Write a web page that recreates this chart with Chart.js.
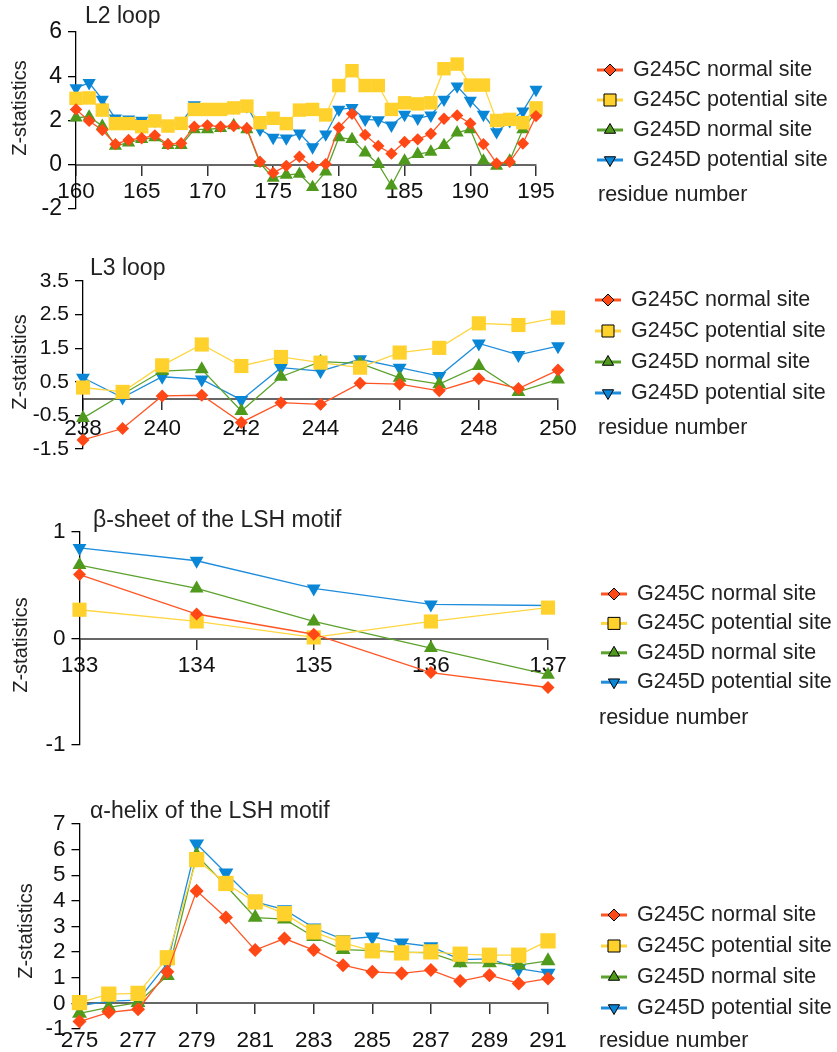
<!DOCTYPE html>
<html>
<head>
<meta charset="utf-8">
<script src="https://cdn.jsdelivr.net/npm/chart.js@4.4.1/dist/chart.umd.min.js"></script>
<style>
  body { margin: 0; background: #fff; width: 837px; height: 1052px; position: relative; overflow: hidden; }
  canvas { position: absolute; left: 0; }
</style>
</head>
<body>
<canvas id="l2Chart"></canvas>
<canvas id="l3Chart"></canvas>
<canvas id="sheetChart"></canvas>
<canvas id="helixChart"></canvas>
<script>
// --- DATA ---
const seriesLabels = ['G245C normal site', 'G245C potential site', 'G245D normal site', 'G245D potential site'];

// L2 loop
const l2Residues = [160, 161, 162, 163, 164, 165, 166, 167, 168, 169, 170, 171, 172, 173, 174, 175, 176, 177,
                    178, 179, 180, 181, 182, 183, 184, 185, 186, 187, 188, 189, 190, 191, 192, 193, 194, 195];
const l2CNormal = [2.5, 1.98, 1.57, 0.93, 1.12, 1.2, 1.33, 0.93, 0.97, 1.72, 1.78, 1.72, 1.75, 1.65, 0.13, -0.37, -0.05, 0.36,
                   -0.09, 0.03, 1.68, 2.3, 1.35, 0.85, 0.5, 1.03, 1.15, 1.4, 2.08, 2.23, 1.87, 0.93, 0.06, 0.13, 0.96, 2.2];
const l2CPotential = [3.0, 3.02, 2.47, 1.86, 1.86, 1.72, 1.98, 1.75, 1.87, 2.5, 2.5, 2.5, 2.57, 2.65, 1.9, 2.1, 1.86, 2.47,
                      2.5, 2.25, 3.58, 4.25, 3.58, 3.58, 2.5, 2.8, 2.75, 2.8, 4.34, 4.55, 3.6, 3.6, 2.0, 2.05, 1.9, 2.57];
const l2DNormal = [2.13, 2.17, 1.75, 0.85, 1.0, 1.15, 1.23, 0.88, 0.88, 1.6, 1.6, 1.65, 1.78, 1.6, 0.07, -0.6, -0.46, -0.42,
                   -1.02, -0.31, 1.23, 1.15, 0.55, 0.03, -0.95, 0.18, 0.48, 0.58, 0.88, 1.45, 1.6, 0.18, -0.05, 0.18, 1.6, 2.4];
const l2DPotential = [3.47, 3.7, 2.95, 2.1, 2.05, 2.0, 2.0, 1.8, 1.9, 2.7, 2.6, 2.55, 2.6, 2.65, 1.6, 1.23, 1.2, 1.42,
                      0.8, 1.38, 2.5, 2.57, 2.05, 2.02, 1.78, 2.27, 2.1, 2.23, 2.95, 3.55, 2.9, 2.27, 1.48, 1.98, 2.42, 3.4];
const l2XTicks = [160, 165, 170, 175, 180, 185, 190, 195];
const l2YTicks = [-2, 0, 2, 4, 6];

// L3 loop
const l3Residues = [238, 239, 240, 241, 242, 243, 244, 245, 246, 247, 248, 249, 250];
const l3CNormal = [-1.23, -0.89, 0.08, 0.1, -0.71, -0.12, -0.17, 0.46, 0.43, 0.23, 0.59, 0.3, 0.85];
const l3CPotential = [0.33, 0.2, 0.99, 1.61, 0.97, 1.24, 1.07, 0.92, 1.37, 1.51, 2.24, 2.19, 2.41];
const l3DNormal = [-0.58, 0.13, 0.82, 0.87, -0.37, 0.65, 1.1, 1.05, 0.62, 0.43, 0.97, 0.2, 0.57];
const l3DPotential = [0.62, 0.03, 0.65, 0.57, -0.04, 0.92, 0.82, 1.17, 0.92, 0.67, 1.64, 1.3, 1.56];
const l3XTicks = [238, 240, 242, 244, 246, 248, 250];
const l3YTicks = [-1.5, -0.5, 0.5, 1.5, 2.5, 3.5];

// beta-sheet of the LSH motif
const sheetResidues = [133, 134, 135, 136, 137];
const sheetCNormal = [0.6, 0.23, 0.04, -0.32, -0.46];
const sheetCPotential = [0.27, 0.16, 0.01, 0.16, 0.29];
const sheetDNormal = [0.69, 0.47, 0.16, -0.09, -0.34];
const sheetDPotential = [0.85, 0.73, 0.47, 0.32, 0.31];
const sheetXTicks = [133, 134, 135, 136, 137];
const sheetYTicks = [-1, 0, 1];

// alpha-helix of the LSH motif
const helixResidues = [275, 276, 277, 278, 279, 280, 281, 282, 283, 284, 285, 286, 287, 288, 289, 290, 291];
const helixCNormal = [-0.71, -0.35, -0.23, 1.23, 4.39, 3.35, 2.08, 2.53, 2.08, 1.49, 1.23, 1.17, 1.3, 0.87, 1.1, 0.78, 0.97];
const helixCPotential = [0.03, 0.36, 0.39, 1.78, 5.61, 4.68, 3.96, 3.5, 2.79, 2.36, 2.05, 1.97, 2.01, 1.92, 1.88, 1.88, 2.44];
const helixDNormal = [-0.39, -0.16, 0.03, 1.08, 5.78, 4.6, 3.35, 3.29, 2.6, 2.1, 2.06, 2.0, 1.97, 1.58, 1.58, 1.49, 1.66];
const helixDPotential = [-0.1, 0.09, 0.13, 1.56, 6.23, 5.09, 3.96, 3.66, 2.95, 2.5, 2.6, 2.36, 2.22, 1.71, 1.74, 1.36, 1.18];
const helixXTicks = [275, 277, 279, 281, 283, 285, 287, 289, 291];
const helixYTicks = [-1, 0, 1, 2, 3, 4, 5, 6, 7];

// --- STYLES ---
const FONT = '"Liberation Sans", Arial, sans-serif';
const markerColors = ['#FF4816', '#FFD12C', '#4F9A1D', '#0A86D6'];
const lineColors = ['#FF5524', '#FFD640', '#5CA22C', '#1E8DDB'];
const markerStyles = ['rectRot', 'rect', 'triangle', 'triangle'];
const markerRotations = [0, 0, 0, 180];
const markerRadius = [6.5, 10, 8, 8];
const legendRadius = [6, 8.5, 6.5, 6.5];
const Y_AXIS_W = 60;

function drawPanelText(chart, p) {
    const ctx = chart.ctx;
    ctx.save();
    ctx.translate(0, -p.top);
    ctx.fillStyle = '#222';

    // panel title
    ctx.font = '23px ' + FONT;
    ctx.textAlign = 'left';
    ctx.textBaseline = 'alphabetic';
    ctx.fillText(p.title, p.titleX, p.titleY);

    // y axis title
    ctx.save();
    ctx.translate(p.yTitleX, p.yTitleY);
    ctx.rotate(-Math.PI / 2);
    ctx.font = '20px ' + FONT;
    ctx.textAlign = 'center';
    ctx.textBaseline = 'middle';
    ctx.fillText('Z-statistics', 0, 0);
    ctx.restore();

    // legend
    ctx.font = '21.5px ' + FONT;
    ctx.textBaseline = 'middle';
    chart.data.datasets.forEach((ds, i) => {
        const y = p.legendY + i * p.legendGap;
        const mx = p.legendX - 23;
        ctx.strokeStyle = lineColors[i];
        ctx.lineWidth = 3;
        ctx.beginPath();
        ctx.moveTo(mx - 13, y);
        ctx.lineTo(mx + 13, y);
        ctx.stroke();
        ctx.fillStyle = markerColors[i];
        ctx.strokeStyle = '#000';
        ctx.lineWidth = 1;
        Chart.helpers.drawPoint(ctx, {
            pointStyle: markerStyles[i],
            rotation: markerRotations[i],
            radius: legendRadius[i],
            borderWidth: 1
        }, mx, y);
        ctx.fillStyle = '#222';
        ctx.fillText(ds.label, p.legendX, y);
    });
    ctx.fillText('residue number', p.residueX, p.residueY);
    ctx.restore();
}

function makeChart(id, p) {
    const cv = document.getElementById(id);
    cv.style.top = p.top + 'px';
    cv.width = 837;
    cv.height = p.height;
    const [left, right, top, bottom] = p.area;

    const datasets = p.series.map((values, i) => ({
        label: seriesLabels[i],
        data: p.residues.map((x, j) => ({ x: x, y: values[j] })),
        borderColor: lineColors[i],
        borderWidth: 1.3,
        backgroundColor: markerColors[i],
        pointBackgroundColor: markerColors[i],
        pointBorderWidth: 0,
        pointStyle: markerStyles[i],
        pointRotation: markerRotations[i],
        pointRadius: markerRadius[i] * p.k,
        tension: 0,
        clip: false
    }));

    new Chart(cv, {
        type: 'line',
        data: { datasets: datasets },
        options: {
            responsive: false,
            animation: false,
            layout: {
                padding: { left: left - Y_AXIS_W, right: 837 - right, top: top - p.top, bottom: p.top + p.height - bottom }
            },
            plugins: { legend: { display: false }, tooltip: { enabled: false } },
            scales: {
                x: {
                    type: 'linear',
                    min: p.residues[0],
                    max: p.residues[p.residues.length - 1],
                    position: { y: 0 },
                    afterBuildTicks: axis => { axis.ticks = p.xTicks.map(v => ({ value: v })); },
                    ticks: { font: { family: FONT, size: 22.5 }, color: '#111', padding: p.xPad, maxRotation: 0, autoSkip: false,
                             callback: v => String(v) },
                    grid: { drawOnChartArea: false, drawTicks: true, tickLength: 10, color: '#333', lineWidth: 1.5 },
                    border: { display: true, color: '#666', width: 2 }
                },
                y: {
                    type: 'linear',
                    min: p.yTicks[0],
                    max: p.yTicks[p.yTicks.length - 1],
                    afterFit: s => { s.width = Y_AXIS_W; },
                    afterBuildTicks: axis => { axis.ticks = p.yTicks.map(v => ({ value: v })); },
                    ticks: { font: { family: FONT, size: p.yFont }, color: '#111', padding: 6, autoSkip: false,
                             callback: v => String(v) },
                    grid: { drawOnChartArea: false, drawTicks: true, tickLength: 8, color: '#000', lineWidth: 1.3 },
                    border: { display: true, color: '#000', width: 1.3 }
                }
            }
        },
        plugins: [{ id: 'panelText', afterDraw: chart => drawPanelText(chart, p) }]
    });
}

makeChart('l2Chart', {
    top: 0, height: 240, area: [76, 536, 32, 209], k: 0.95, yFont: 23,
    residues: l2Residues, series: [l2CNormal, l2CPotential, l2DNormal, l2DPotential],
    xTicks: l2XTicks, yTicks: l2YTicks, xPad: 4,
    title: 'L2 loop', titleX: 85, titleY: 23, yTitleX: 20, yTitleY: 108,
    legendX: 633, legendY: 70, legendGap: 30, residueX: 598, residueY: 195
});

makeChart('l3Chart', {
    top: 240, height: 230, area: [83, 558, 281, 449], k: 1.0, yFont: 21,
    residues: l3Residues, series: [l3CNormal, l3CPotential, l3DNormal, l3DPotential],
    xTicks: l3XTicks, yTicks: l3YTicks, xPad: 7,
    title: 'L3 loop', titleX: 90, titleY: 275, yTitleX: 20, yTitleY: 362,
    legendX: 631, legendY: 300, legendGap: 31, residueX: 598, residueY: 428
});

makeChart('sheetChart', {
    top: 470, height: 300, area: [79.5, 548, 532, 745], k: 1.0, yFont: 22.5,
    residues: sheetResidues, series: [sheetCNormal, sheetCPotential, sheetDNormal, sheetDPotential],
    xTicks: sheetXTicks, yTicks: sheetYTicks, xPad: 4,
    title: 'β-sheet of the LSH motif', titleX: 93, titleY: 527, yTitleX: 21, yTitleY: 645,
    legendX: 637, legendY: 594, legendGap: 29.4, residueX: 599, residueY: 718
});

makeChart('helixChart', {
    top: 770, height: 282, area: [79.5, 548, 824, 1029], k: 1.08, yFont: 22.5,
    residues: helixResidues, series: [helixCNormal, helixCPotential, helixDNormal, helixDPotential],
    xTicks: helixXTicks, yTicks: helixYTicks, xPad: 14,
    title: 'α-helix of the LSH motif', titleX: 90, titleY: 818, yTitleX: 26, yTitleY: 931,
    legendX: 637, legendY: 915, legendGap: 31, residueX: 599, residueY: 1041
});
</script>
</body>
</html>
